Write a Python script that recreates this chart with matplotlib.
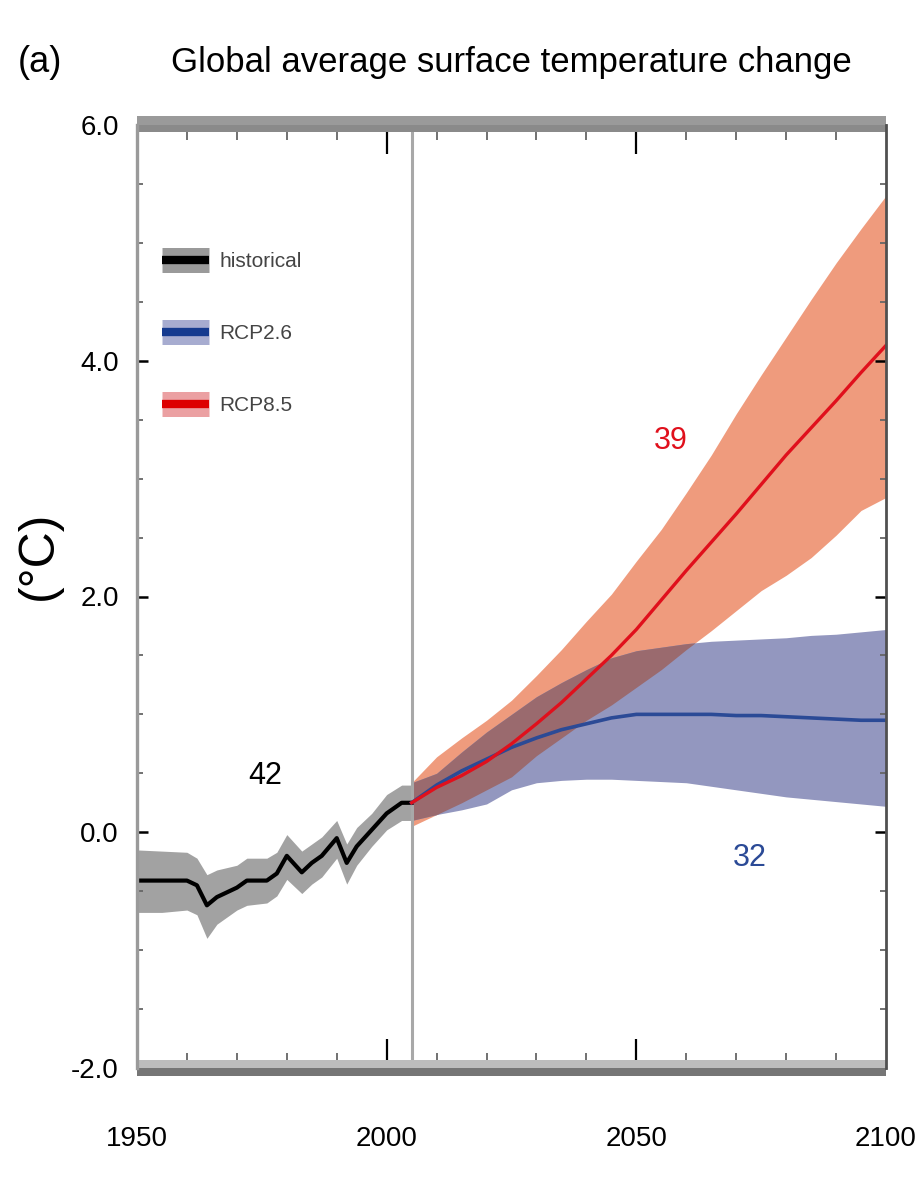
import numpy as np
import matplotlib
matplotlib.use('Agg')
import matplotlib.pyplot as plt
from matplotlib.patches import Rectangle
from matplotlib.lines import Line2D

plt.rcParams['font.family'] = ['Liberation Sans', 'DejaVu Sans']

# ---- Historical ----
hist_years = [1950, 1955, 1960, 1962, 1964, 1966, 1970, 1972, 1976, 1978, 1980,
              1983, 1985, 1987, 1990, 1992, 1994, 1997, 2000, 2003, 2005]
hist_mean = [-0.41, -0.41, -0.41, -0.45, -0.62, -0.55, -0.47, -0.41, -0.41, -0.35, -0.20,
             -0.34, -0.26, -0.20, -0.05, -0.26, -0.12, 0.02, 0.16, 0.25, 0.25]
hist_low = [-0.68, -0.68, -0.66, -0.70, -0.90, -0.78, -0.66, -0.62, -0.60, -0.54, -0.40,
            -0.52, -0.44, -0.38, -0.22, -0.44, -0.28, -0.12, 0.02, 0.10, 0.10]
hist_high = [-0.15, -0.16, -0.17, -0.22, -0.36, -0.32, -0.28, -0.22, -0.22, -0.17, -0.02,
             -0.16, -0.10, -0.04, 0.10, -0.10, 0.04, 0.16, 0.32, 0.40, 0.40]

# ---- Scenarios ----
rcp_years = [2005, 2010, 2015, 2020, 2025, 2030, 2035, 2040, 2045, 2050,
             2055, 2060, 2065, 2070, 2075, 2080, 2085, 2090, 2095, 2100]
rcp26_mean = [0.25, 0.40, 0.52, 0.62, 0.72, 0.80, 0.87, 0.92, 0.97, 1.00,
              1.00, 1.00, 1.00, 0.99, 0.99, 0.98, 0.97, 0.96, 0.95, 0.95]
rcp26_low = [0.10, 0.15, 0.19, 0.24, 0.36, 0.42, 0.44, 0.45, 0.45, 0.44,
             0.43, 0.42, 0.39, 0.36, 0.33, 0.30, 0.28, 0.26, 0.24, 0.22]
rcp26_high = [0.42, 0.50, 0.68, 0.85, 1.00, 1.15, 1.27, 1.38, 1.48, 1.54,
              1.57, 1.60, 1.62, 1.63, 1.64, 1.65, 1.67, 1.68, 1.70, 1.72]
rcp85_mean = [0.25, 0.38, 0.48, 0.60, 0.75, 0.92, 1.10, 1.30, 1.50, 1.72,
              1.97, 2.22, 2.46, 2.70, 2.95, 3.20, 3.43, 3.66, 3.90, 4.13]
rcp85_low = [0.05, 0.15, 0.25, 0.36, 0.47, 0.65, 0.80, 0.95, 1.08, 1.23,
             1.38, 1.55, 1.71, 1.88, 2.05, 2.18, 2.33, 2.52, 2.73, 2.84]
rcp85_high = [0.42, 0.64, 0.80, 0.95, 1.12, 1.33, 1.55, 1.79, 2.02, 2.30,
              2.57, 2.88, 3.20, 3.55, 3.88, 4.20, 4.52, 4.83, 5.12, 5.40]

n_models = {'historical': 42, 'RCP2.6': 32, 'RCP8.5': 39}

C_HIST, C_HIST_BAND = 'black', '#a2a2a2'
C_26, C_26_BAND = '#2b4a96', '#9397bf'
C_85, C_85_BAND = '#e0101c', '#ef9b7d'
C_OVERLAP = '#9a6a6e'

fig = plt.figure(figsize=(9.18, 11.85), dpi=100)
ax = fig.add_axes([137 / 918, 1 - 1068 / 1185, 749 / 918, 943 / 1185])

# bands
ax.fill_between(hist_years, hist_low, hist_high, color=C_HIST_BAND, lw=0)
ax.fill_between(rcp_years, rcp85_low, rcp85_high, color=C_85_BAND, lw=0)
ax.fill_between(rcp_years, rcp26_low, rcp26_high, color=C_26_BAND, lw=0)
ov_lo = np.maximum(rcp26_low, rcp85_low)
ov_hi = np.minimum(rcp26_high, rcp85_high)
ax.fill_between(rcp_years, ov_lo, ov_hi, where=ov_hi > ov_lo, interpolate=True,
                color=C_OVERLAP, lw=0)

# means
ax.plot(hist_years, hist_mean, color=C_HIST, lw=3)
ax.plot(rcp_years, rcp26_mean, color=C_26, lw=2.6)
ax.plot(rcp_years, rcp85_mean, color=C_85, lw=2.4)

ax.axvline(2005, color='#a8a8a8', lw=2.2, zorder=1.5)

ax.set_xlim(1950, 2100)
ax.set_ylim(-2, 6)

# model counts
ax.text(1975.6, 0.48, str(n_models['historical']), color='black', fontsize=22,
        ha='center', va='center')
ax.text(2056.8, 3.32, str(n_models['RCP8.5']), color=C_85, fontsize=22,
        ha='center', va='center')
ax.text(2072.8, -0.22, str(n_models['RCP2.6']), color=C_26, fontsize=22,
        ha='center', va='center')

# frame: thick grey bars top and bottom
ax.spines['top'].set_visible(False)
ax.spines['bottom'].set_visible(False)
ax.spines['left'].set_color('#9a9a9a')
ax.spines['left'].set_linewidth(2.4)
ax.spines['right'].set_color('#505050')
ax.spines['right'].set_linewidth(2.0)
h_px = 943.0
for y0, hgt, col in [(1.0, 9 / h_px, '#9a9a9a'), (1.0 - 7 / h_px, 7 / h_px, '#8a8a8a'),
                     (0.0, 8 / h_px, '#bdbdbd'), (-8 / h_px, 8 / h_px, '#767676')]:
    ax.add_patch(Rectangle((0, y0), 1, hgt, transform=ax.transAxes, color=col,
                           lw=0, clip_on=False, zorder=2.4))

# ticks
ax.set_xticks([1950, 2000, 2050, 2100])
ax.set_xticklabels(['1950', '2000', '2050', '2100'])
ax.set_xticks(np.arange(1960, 2100, 10), minor=True)
ax.set_yticks([-2, 0, 2, 4, 6])
ax.set_yticklabels(['-2.0', '0.0', '2.0', '4.0', '6.0'])
ax.set_yticks(np.arange(-2, 6.01, 0.5), minor=True)

ax.tick_params(axis='x', which='major', direction='in', top=True, bottom=True,
               length=21, width=1.6, color='black', labelsize=20, pad=42)
ax.tick_params(axis='x', which='minor', direction='in', top=True, bottom=True,
               length=11, width=1.3, color='#666666')
ax.tick_params(axis='y', which='major', direction='in', left=True, right=True,
               length=8, width=1.8, color='black', labelsize=20, pad=13)
ax.tick_params(axis='y', which='minor', direction='in', left=True, right=True,
               length=4, width=1.3, color='#666666')
for i in (0, 3):
    t = ax.xaxis.get_major_ticks()[i]
    t.tick1line.set_visible(False)
    t.tick2line.set_visible(False)

ax.set_ylabel('(°C)', fontsize=36)
ax.yaxis.set_label_coords(-0.10, 0.544)

ax.set_title('Global average surface temperature change', fontsize=25, pad=38)
fig.text(40 / 918, 1 - 72 / 1185, '(a)', fontsize=26, ha='center', va='baseline')

# legend
handles = [
    (Line2D([], [], color='#9a9a9a', lw=18, solid_capstyle='butt'),
     Line2D([], [], color=C_HIST, lw=6, solid_capstyle='butt')),
    (Line2D([], [], color='#a7acd0', lw=18, solid_capstyle='butt'),
     Line2D([], [], color='#153a8f', lw=6, solid_capstyle='butt')),
    (Line2D([], [], color='#eba0a2', lw=18, solid_capstyle='butt'),
     Line2D([], [], color='#dd0000', lw=6, solid_capstyle='butt')),
]
ax.legend(handles, ['historical', 'RCP2.6', 'RCP8.5'], loc='upper left',
          bbox_to_anchor=(0.008, 0.885), frameon=False, fontsize=15,
          handlelength=2.25, handletextpad=0.5, labelspacing=2.55,
          labelcolor='#444444')

fig.savefig('out.png', dpi=100)
